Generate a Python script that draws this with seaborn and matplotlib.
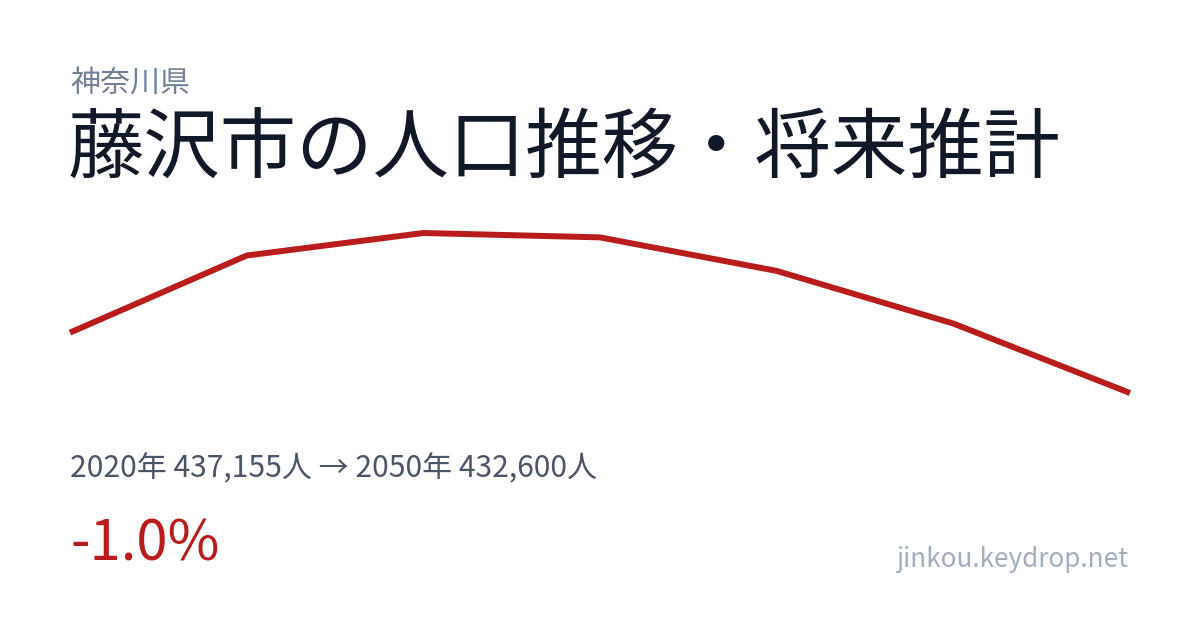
import matplotlib
matplotlib.use("Agg")
import matplotlib.pyplot as plt
import seaborn as sns
import pandas as pd

years = [2020, 2025, 2030, 2035, 2040, 2045, 2050]
population = [437155, 442970, 444670, 444340, 441810, 437840, 432600]

prefecture = "神奈川県"
title = "藤沢市の人口推移・将来推計"
summary = "2020年 437,155人 → 2050年 432,600人"
change = "-1.0%"
site = "jinkou.keydrop.net"

sns.set_theme(style="white")
plt.rcParams['font.family'] = ['Noto Sans CJK JP', 'DejaVu Sans']

W, H = 1200, 630
fig = plt.figure(figsize=(12, 6.3), dpi=100)
fig.patch.set_facecolor("white")

def fx(px):
    return px / W

def fy(py):
    return 1 - py / H

ax = fig.add_axes([fx(70), fy(393), fx(1130 - 70), (393 - 233) / H])
df = pd.DataFrame({"year": years, "population": population})
sns.lineplot(data=df, x="year", y="population", ax=ax, color="#b91c1c",
             linewidth=4.3, clip_on=False)
for ln in ax.lines:
    ln.set_solid_capstyle("butt")
    ln.set_solid_joinstyle("miter")
ax.set_xlim(min(years), max(years))
ax.set_ylim(min(population), max(population))
ax.axis("off")

fig.text(fx(70), fy(68), prefecture, fontsize=21.6, color="#718096", va="top", ha="left")
fig.text(fx(68), fy(111), title, fontsize=55, color="#111827", va="top", ha="left")
fig.text(fx(70), fy(453), summary, fontsize=21.6, color="#4a5568", va="top", ha="left")
fig.text(fx(70), fy(516), change, fontsize=40.5, color="#b91c1c", va="top", ha="left")
fig.text(fx(1128), fy(546), site, fontsize=18.8, color="#a0aec0", va="top", ha="right")

fig.savefig("out.png", dpi=100, facecolor="white")
